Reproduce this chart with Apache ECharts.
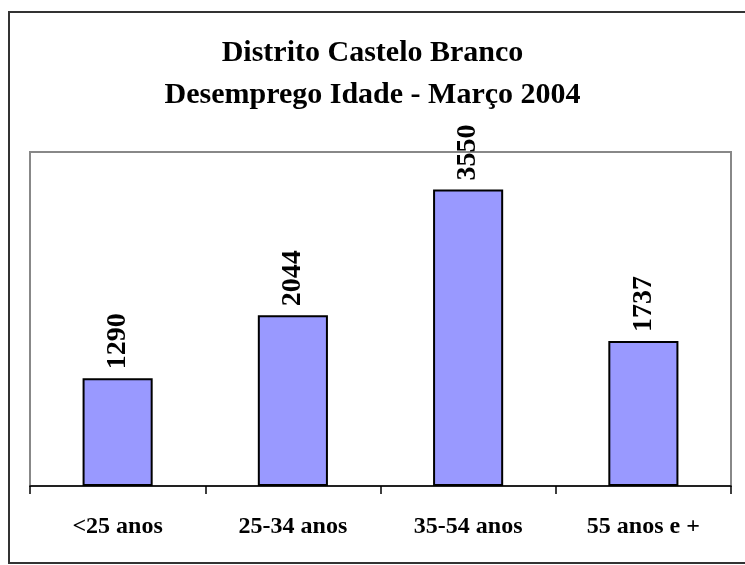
<!DOCTYPE html>
<html>
<head>
<meta charset="utf-8">
<script src="https://cdn.jsdelivr.net/npm/echarts@6/dist/echarts.min.js"></script>
<style>
html,body{margin:0;padding:0;background:#fff;}
#chart{width:745px;height:565px;}
</style>
</head>
<body>
<div id="chart"></div>
<script>
const titleLines = ['Distrito Castelo Branco', 'Desemprego Idade - Março 2004'];
const categories = ['<25 anos', '25-34 anos', '35-54 anos', '55 anos e +'];
const values = [1290, 2044, 3550, 1737];

const chart = echarts.init(document.getElementById('chart'), null, {renderer: 'canvas'});
const font = "'Liberation Serif','Times New Roman',serif";
chart.setOption({
  animation: false,
  backgroundColor: '#ffffff',
  title: {
    text: titleLines.join('\n'),
    left: 'center',
    top: 27,
    textStyle: {
      fontFamily: font, fontSize: 30, fontWeight: 'bold', color: '#000', lineHeight: 42
    }
  },
  graphic: [{
    type: 'rect',
    shape: {x: 9, y: 12, width: 800, height: 551},
    style: {fill: 'none', stroke: '#333', lineWidth: 2},
    silent: true, z: 0
  }],
  grid: {
    left: 30, right: 14, top: 152, bottom: 79,
    show: true, borderColor: '#888', borderWidth: 2, backgroundColor: '#fff'
  },
  xAxis: {
    type: 'category',
    data: categories,
    boundaryGap: true,
    axisLine: {lineStyle: {color: '#000', width: 1.5}},
    axisTick: {show: true, length: 8, alignWithLabel: false, lineStyle: {color: '#000', width: 1.5}},
    axisLabel: {
      margin: 29, fontFamily: font, fontSize: 24, fontWeight: 'bold', color: '#000', interval: 0
    },
    splitLine: {show: false}
  },
  yAxis: {
    type: 'value', min: 0, max: 4000,
    show: false,
    splitLine: {show: false}
  },
  series: [{
    type: 'bar',
    data: values,
    barWidth: '40%',
    itemStyle: {color: '#9999FF', borderColor: '#000', borderWidth: 2},
    label: {
      show: true,
      position: 'top',
      rotate: 90,
      align: 'left',
      verticalAlign: 'middle',
      distance: 9,
      fontFamily: font, fontSize: 28, fontWeight: 'bold', color: '#000'
    }
  }]
});
</script>
</body>
</html>
